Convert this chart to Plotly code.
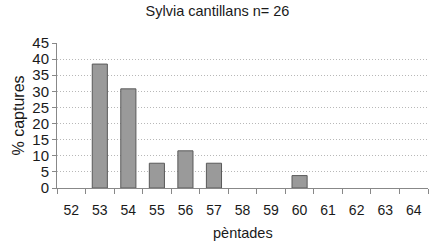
import plotly.graph_objects as go

categories = ["52", "53", "54", "55", "56", "57", "58", "59", "60", "61", "62", "63", "64"]
values = [None, 38.46, 30.77, 7.69, 11.54, 7.69, None, None, 3.85, None, None, None, None]
y_ticks = [0, 5, 10, 15, 20, 25, 30, 35, 40, 45]

W, H = 431, 245
ML, MR, MT, MB = 57, 3, 43, 57

fig = go.Figure(go.Bar(
    x=categories, y=values,
    marker=dict(color="#9a9a9a", line=dict(color="#5a5a5a", width=1)),
))

fam = "Liberation Sans, Arial, sans-serif"
fig.update_layout(
    width=W, height=H,
    margin=dict(l=ML, r=MR, t=MT, b=MB, autoexpand=False),
    paper_bgcolor="white", plot_bgcolor="white",
    bargap=0.47,
    showlegend=False,
    font=dict(family=fam, size=14, color="#1a1a1a"),
    title=dict(text="Sylvia cantillans n= 26", x=217.5 / W, xanchor="center",
               xref="container", yref="container", y=1 - 11 / H, yanchor="middle",
               font=dict(size=14.5, color="#1a1a1a")),
    annotations=[
        dict(text="pèntades", xref="paper", yref="paper", x=0.5,
             y=-(233 - (H - MB)) / (H - MT - MB), xanchor="center", yanchor="middle",
             showarrow=False, font=dict(size=14.5)),
        dict(text="% captures", xref="paper", yref="paper",
             x=-(ML - 18) / (W - ML - MR), y=0.5, textangle=-90,
             xanchor="center", yanchor="middle",
             showarrow=False, font=dict(size=16)),
    ],
)
fig.update_xaxes(
    type="category", tickson="boundaries", ticks="outside", ticklen=5,
    tickcolor="#888", showline=True, linecolor="#888", linewidth=1,
    showgrid=False, tickfont=dict(size=14), automargin=False,
    ticklabelstandoff=9,
)
fig.update_yaxes(
    range=[0, 45], tickvals=y_ticks, ticks="outside", ticklen=4,
    tickcolor="#888", showline=True, linecolor="#888", linewidth=1,
    showgrid=True, gridcolor="#b8b8b8", griddash="1px,2px", gridwidth=1,
    zeroline=False, tickfont=dict(size=15), automargin=False,
)
fig.write_html("out.html", config={"displayModeBar": False},
               post_script="document.body.style.margin='0';")
